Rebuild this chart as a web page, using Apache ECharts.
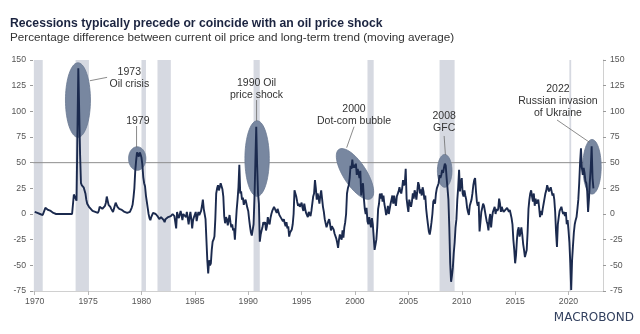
<!DOCTYPE html>
<html>
<head>
<meta charset="utf-8">
<script src="https://cdn.jsdelivr.net/npm/echarts@6/dist/echarts.min.js"></script>
<style>
html,body{margin:0;padding:0;background:#fff;}
#c{width:640px;height:334px;}
</style>
</head>
<body>
<div id="c"></div>
<script>
// ---------- DATA (monthly, % difference vs long-term trend) ----------
const startYear = 1970;
const m1970s = [
  2,2,1,1,0,0,0,-1,-1,-1,0,-1,
  6,6,5,4,4,3,3,2,2,1,1,0,
  0,0,0,0,0,0,0,0,0,0,0,0,
  0,0,0,0,0,0,0,0,19,18,15,13,
  78,142,100,58,30,28,27,26,25,20,14,10,
  9,7,6,5,4,3,3,2,2,1,1,1,
  3,7,8,6,5,5,6,8,11,17,13,9,
  8,7,5,4,2,5,8,11,9,7,6,5,
  5,4,4,3,3,2,2,1,1,0,0,2,
  4,6,9,16,25,42,52,60,58,56,60,58
];
const m1980s = [
  55,48,36,30,27,18,12,6,0,-4,-6,-3,
  -3,1,1,0,0,-1,-2,-3,-5,-4,-3,-4,
  -3,-6,-8,-5,-4,-5,-3,-4,-4,-2,-1,0,
  0,-2,-8,-14,2,-2,-4,-3,3,-1,-6,0,
  0,1,-3,2,-4,-10,-3,2,-5,-14,-6,-3,
  -3,2,-7,-2,2,-1,0,3,8,14,5,0,
  -5,-25,-45,-58,-45,-50,-48,-35,-27,-25,-22,-5,
  20,25,28,23,26,30,31,24,17,-2,-9,-3,
  -5,-11,-6,-1,-8,-13,-10,-16,-14,-25,-10,4,
  14,26,48,20,22,14,16,9,12,14,10,6
];
const m1990s = [
  3,-5,-12,-18,-21,-22,-10,15,50,85,48,20,
  10,-27,-20,-16,-13,-8,-10,-8,-16,-12,-3,-8,
  -10,-4,0,3,5,7,8,3,1,5,2,-1,
  -1,-4,-3,-7,-5,-9,-12,-8,-14,-12,-22,-18,
  -19,-15,-10,0,23,20,17,12,8,10,7,9,
  11,6,3,10,5,1,-1,-3,2,0,-2,3,
  3,17,20,33,25,14,20,16,10,18,23,15,
  7,2,-5,-9,-13,-10,-7,-5,-10,-16,-12,-13,
  -15,-19,-20,-24,-28,-33,-25,-20,-23,-25,-16,-23,
  -13,-8,0,20,25,28,35,47,44,53,45,48
];
const m2000s = [
  45,49,38,44,40,35,42,18,27,30,15,5,
  0,6,-7,-10,-3,-8,-13,-4,-10,-22,-35,-30,
  -25,-13,5,10,20,15,20,12,18,10,5,-1,
  2,8,0,5,10,14,18,10,18,12,8,17,
  17,22,26,22,20,25,33,28,30,44,15,8,
  2,14,10,7,12,20,15,23,20,14,22,31,
  28,20,24,18,26,22,14,18,5,-3,-10,-17,
  -20,-15,-8,0,12,14,10,20,25,26,30,38,
  35,38,43,40,45,49,47,35,25,14,-13,-48,
  -66,-60,-52,-38,-28,-13,-5,14,26,43,22,30
];
const m2010s = [
  35,20,17,23,18,14,6,2,-1,8,8,14,
  20,28,33,35,22,12,8,12,-17,-8,2,6,
  10,8,3,-2,-7,-10,-16,-5,0,-13,-4,2,
  2,7,0,5,3,5,15,10,2,7,4,2,
  2,4,3,6,5,2,4,0,-4,-10,-25,-35,
  -48,-40,-25,-16,-13,-22,-18,-13,-20,-29,-35,-42,
  -43,-35,-18,5,14,20,23,17,12,20,8,15,
  10,12,14,6,-3,3,-1,5,10,15,20,23,
  28,25,22,24,26,22,18,20,14,2,-18,-32,
  -10,-3,3,5,7,3,0,2,-2,2,-10,-6
];
const m2020s = [
  -16,-28,-48,-74,-45,-31,-18,-10,-6,-3,5,14,
  30,50,64,45,38,45,40,32,30,22,2,15,
  32,45,66,35,25
];

// US recessions (start, end) in fractional years
const recessions = [
  [1969.92, 1970.75], [1973.83, 1975.08], [1980.0, 1980.42], [1981.5, 1982.75],
  [1990.5, 1991.08], [2001.17, 2001.75], [2007.92, 2009.33], [2020.08, 2020.25]
];

// axis ticks
const xTickYears = [1970, 1975, 1980, 1985, 1990, 1995, 2000, 2005, 2010, 2015, 2020];
const yMin = -75, yMax = 150, yStep = 25;
const refLevel = 50;

// annotations (data units)
const annoLabels = ['1973\nOil crisis', '1979', '1990 Oil\nprice shock', '2000\nDot-com bubble', '2008\nGFC', '2022\nRussian invasion\nof Ukraine'];
// [centre year, centre value, half-width (years), half-height (value), tilt deg]
const annoEllipses = [
  [1974.05, 111, 1.17, 36.3, 0],
  [1979.6, 54, 0.81, 11.5, 0],
  [1990.83, 54, 1.14, 36.8, 0],
  [2000.0, 39, 2.75, 11.2, 57],
  [2008.4, 42, 0.68, 16, 0],
  [2022.2, 46, 0.86, 26.6, 0]
];
// [text year, text value, leader x1, y1, x2, y2]
const annoText = [
  [1978.86, 132.1, 1975.16, 129.8, 1976.78, 133.1],
  [1979.66, 90.9, 1979.54, 85.7, 1979.54, 65.0],
  [1990.78, 121.6, 1990.78, 111.0, 1990.78, 90.6],
  [1999.91, 96.4, 1999.91, 85.0, 1999.22, 64.6],
  [2008.35, 89.9, 2008.35, 76.0, 2008.47, 57.5],
  [2019.01, 110.3, 2018.92, 91.6, 2021.97, 69.8]
];

// ---------- BUILD ----------
const monthly = [].concat(m1970s, m1980s, m1990s, m2000s, m2010s, m2020s);
const lineData = monthly.map((v, i) => [startYear + i / 12, v]);

const FONT = '"Liberation Sans", Arial, Helvetica, sans-serif';
const chart = echarts.init(document.getElementById('c'), null, {renderer: 'canvas'});

const yAxisCommon = {
  type: 'value', min: yMin, max: yMax, interval: yStep,
  splitLine: {show: false},
  axisTick: {show: true, length: 3, lineStyle: {color: '#9a9a9a'}},
  axisLabel: {color: '#555', fontSize: 8.7, fontFamily: FONT, margin: 7}
};

const option = {
  animation: false,
  backgroundColor: '#fff',
  grid: {left: 33, right: 37, top: 60, bottom: 43, containLabel: false},
  xAxis: {
    type: 'value', min: 1969.84, max: 2023.23,
    splitLine: {show: false},
    axisLine: {show: true, onZero: false, lineStyle: {color: '#d0d0d0'}},
    axisTick: {show: true, customValues: xTickYears, length: 4, lineStyle: {color: '#b8b8b8'}},
    axisLabel: {customValues: xTickYears, color: '#555', fontSize: 8.7, fontFamily: FONT, margin: 6,
      formatter: v => String(Math.round(v))}
  },
  yAxis: [
    Object.assign({}, yAxisCommon, {position: 'left', axisLine: {show: false, onZero: false}}),
    Object.assign({}, yAxisCommon, {position: 'right', axisLine: {show: true, onZero: false, lineStyle: {color: '#d0d0d0'}}})
  ],
  graphic: [
    {type: 'text', left: 10, top: 18, silent: true,
      style: {text: 'Recessions typically precede or coincide with an oil price shock',
        font: 'bold 12.2px ' + FONT, fill: '#1b2440'}},
    {type: 'text', left: 10, top: 31.5, silent: true,
      style: {text: 'Percentage difference between current oil price and long-term trend (moving average)',
        font: '11.7px ' + FONT, fill: '#333'}},
    {type: 'text', right: 6, top: 312, silent: true,
      style: {text: 'MACROBOND', font: '12px "DejaVu Sans", sans-serif', fill: '#33415f'}}
  ],
  series: [
    { // recession bands
      type: 'custom', z: 0, silent: true,
      data: recessions,
      renderItem: function (params, api) {
        const p0 = api.coord([api.value(0), yMax]);
        const p1 = api.coord([api.value(1), yMin]);
        const cs = params.coordSys;
        const r = echarts.graphic.clipRectByRect(
          {x: p0[0], y: p0[1], width: p1[0] - p0[0], height: p1[1] - p0[1]},
          {x: cs.x, y: cs.y, width: cs.width, height: cs.height});
        return r && {type: 'rect', shape: r, style: {fill: '#d6d9e1'}};
      }
    },
    { // reference line at 50
      type: 'custom', z: 1, silent: true,
      data: [[refLevel]],
      renderItem: function (params, api) {
        const cs = params.coordSys;
        const y = api.coord([startYear, api.value(0)])[1];
        return {type: 'line', shape: {x1: cs.x, y1: y, x2: cs.x + cs.width, y2: y},
          style: {stroke: '#8e8e8e', lineWidth: 1}};
      }
    },
    { // ellipses
      type: 'custom', z: 2, silent: true,
      data: annoEllipses,
      renderItem: function (params, api) {
        const c = api.coord([api.value(0), api.value(1)]);
        const s = api.size([api.value(2), api.value(3)]);
        const phi = api.value(4) * Math.PI / 180;
        const pts = [];
        for (let k = 0; k < 72; k++) {
          const th = k / 72 * Math.PI * 2;
          const ex = s[0] * Math.cos(th), ey = s[1] * Math.sin(th);
          pts.push([c[0] + ex * Math.cos(phi) - ey * Math.sin(phi),
                    c[1] + ex * Math.sin(phi) + ey * Math.cos(phi)]);
        }
        return {type: 'polygon', shape: {points: pts},
          style: {fill: '#7887a0', stroke: '#6a7992', lineWidth: 0.8}};
      }
    },
    { // main line
      type: 'line', z: 3, silent: true,
      data: lineData,
      showSymbol: false, symbol: 'none',
      lineStyle: {color: '#1b2a4e', width: 1.9},
      clip: true
    },
    { // labels and leader lines
      type: 'custom', z: 4, silent: true,
      data: annoText,
      renderItem: function (params, api) {
        const t = api.coord([api.value(0), api.value(1)]);
        const a = api.coord([api.value(2), api.value(3)]);
        const b = api.coord([api.value(4), api.value(5)]);
        return {type: 'group', children: [
          {type: 'line', shape: {x1: a[0], y1: a[1], x2: b[0], y2: b[1]},
            style: {stroke: '#6d6d6d', lineWidth: 0.8}},
          {type: 'text', style: {text: annoLabels[params.dataIndex], x: t[0], y: t[1],
            align: 'center', verticalAlign: 'middle', font: '10.5px ' + FONT,
            lineHeight: 12, fill: '#333'}}
        ]};
      }
    }
  ]
};
chart.setOption(option);
</script>
</body>
</html>
